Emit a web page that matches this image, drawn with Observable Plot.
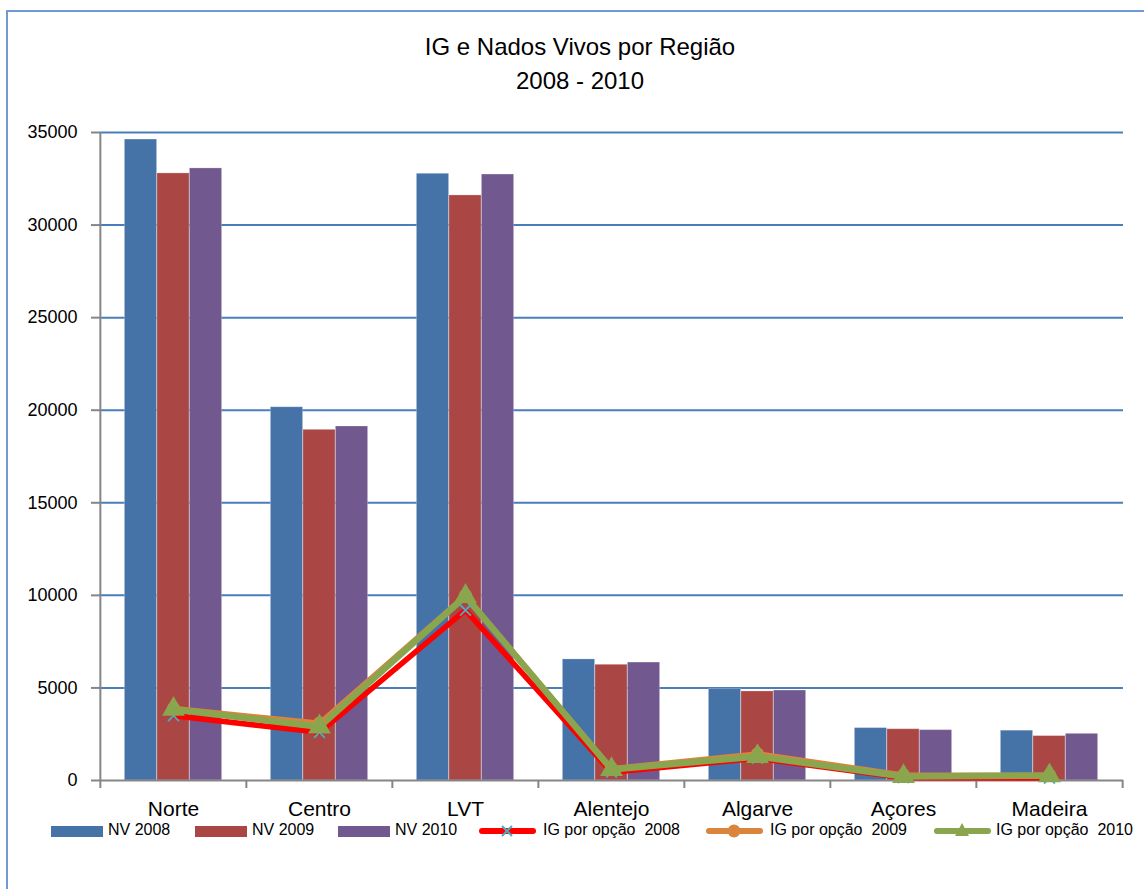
<!DOCTYPE html>
<html>
<head>
<meta charset="utf-8">
<script src="https://cdn.jsdelivr.net/npm/d3@7"></script>
<script src="https://cdn.jsdelivr.net/npm/@observablehq/plot@0.6"></script>
<style>
  html, body { margin: 0; padding: 0; background: #fff; }
  body { width: 1144px; height: 889px; overflow: hidden; position: relative; font-family: "Liberation Sans", Arial, sans-serif; }
  #frame { position: absolute; left: 6px; top: 10px; width: 1300px; height: 1000px; border-left: 2px solid #6f9ad2; border-top: 2px solid #6f9ad2; }
  #chart { position: absolute; left: 0; top: 0; }
  .title { position: absolute; left: 380px; width: 400px; text-align: center; font-size: 24px; color: #000; white-space: nowrap; }
  .leg { position: absolute; top: 818px; height: 24px; font-size: 16px; color: #000; white-space: nowrap; }
  .leg .sw { position: absolute; top: 8px; height: 11px; }
  .leg .tx { position: absolute; top: 3px; }
  .leg svg { position: absolute; top: 0; }
</style>
</head>
<body>
<div id="frame"></div>
<div id="chart"></div>
<div class="title" style="top:33px">IG e Nados Vivos por Região</div>
<div class="title" style="top:67px">2008 - 2010</div>
<div id="legend"></div>
<script>
const regions = ["Norte", "Centro", "LVT", "Alentejo", "Algarve", "Açores", "Madeira"];
const nv2008 = [34620, 20160, 32770, 6540, 4940, 2830, 2690];
const nv2009 = [32790, 18940, 31600, 6250, 4810, 2770, 2400];
const nv2010 = [33060, 19120, 32730, 6370, 4860, 2720, 2520];
const ig2008 = [3500, 2600, 9200, 450, 1200, 150, 130];
const ig2009 = [3900, 3100, 10000, 650, 1450, 300, 300];
const ig2010 = [3850, 2900, 9950, 600, 1300, 220, 260];
const yTicks = [0, 5000, 10000, 15000, 20000, 25000, 30000, 35000];
const barNames = ["NV 2008", "NV 2009", "NV 2010"];
const lineNames = ["IG por opção  2008", "IG por opção  2009", "IG por opção  2010"];

const barColors = ["#4572a7", "#aa4643", "#71588f"];
const lineColors = ["#ff0000", "#db843d", "#89a54e"];
const gridColor = "#4a7ebb";
const axisColor = "#868686";

const data = regions.map((r, i) => ({
  region: r, nv2008: nv2008[i], nv2009: nv2009[i], nv2010: nv2010[i],
  ig2008: ig2008[i], ig2009: ig2009[i], ig2010: ig2010[i]
}));

const W = 1144, H = 889, mL = 99, mR = 21, mT = 132, mB = 109;
const bw = (W - mL - mR) / regions.length;
const barW = bw / 4.5;
const gap = (bw - 3 * barW) / 2;
const nvKeys = ["nv2008", "nv2009", "nv2010"];
const igKeys = ["ig2008", "ig2009", "ig2010"];

const barMarks = nvKeys.map((k, j) => Plot.barY(data, {
  x: "region", y: k, fill: barColors[j], stroke: "#ffffff", strokeOpacity: 0.25, strokeWidth: 1,
  insetLeft: gap + j * barW, insetRight: gap + (2 - j) * barW
}));

const lineWidths = [5.5, 5, 6.5];
const lineMarks = igKeys.map((k, j) => Plot.line(data, {
  x: "region", y: k, stroke: lineColors[j], strokeWidth: lineWidths[j], strokeLinejoin: "miter", curve: "linear"
}));
const dotMarks = [
  Plot.dot(data, {x: "region", y: "ig2008", symbol: "times", r: 5, stroke: "#4bacc6", strokeWidth: 1.8}),
  Plot.dot(data, {x: "region", y: "ig2009", symbol: "circle", r: 6.5, fill: lineColors[1]}),
  Plot.dot(data, {x: "region", y: "ig2010", symbol: "triangle", r: 8.5, fill: lineColors[2]})
];

const chart = Plot.plot({
  width: W, height: H,
  marginLeft: mL, marginRight: mR, marginTop: mT, marginBottom: mB,
  style: {fontFamily: "Liberation Sans, Arial, sans-serif", color: "#000", background: "transparent", overflow: "visible"},
  x: {domain: regions, padding: 0, label: null},
  y: {domain: [0, 35000], label: null},
  marks: [
    Plot.ruleY(yTicks.filter(d => d > 0), {stroke: gridColor, strokeWidth: 2}),
    ...barMarks,
    Plot.ruleY([0], {stroke: axisColor, strokeWidth: 2}),
    Plot.ruleX([regions[0]], {x: d => d, dx: -bw / 2, y1: 0, y2: 35000, stroke: axisColor, strokeWidth: 2}),
    Plot.axisY({ticks: yTicks, tickSize: 8, tickPadding: 14, stroke: axisColor, strokeWidth: 2, fill: "#000", fontSize: 18, label: null, tickFormat: d => String(d)}),
    Plot.axisX({tickSize: 8, dx: -bw / 2, stroke: axisColor, strokeWidth: 2, tickFormat: () => "", label: null}),
    Plot.axisX({ticks: [regions[regions.length - 1]], tickSize: 8, dx: bw / 2, stroke: axisColor, strokeWidth: 2, tickFormat: () => "", label: null}),
    Plot.axisX({tickSize: 0, tickPadding: 21, fill: "#000", fontSize: 21, label: null}),
    ...lineMarks,
    ...dotMarks
  ]
});
document.getElementById("chart").appendChild(chart);

// Legend
const legend = document.getElementById("legend");
const barLeg = [{x: 51, t: 108}, {x: 195, t: 252}, {x: 338, t: 395}];
barNames.forEach((n, j) => {
  const d = document.createElement("div");
  d.className = "leg";
  d.style.left = barLeg[j].x + "px";
  d.innerHTML = `<div class="sw" style="left:0;width:52px;background:${barColors[j]}"></div>` +
    `<div class="tx" style="left:${barLeg[j].t - barLeg[j].x}px">${n}</div>`;
  legend.appendChild(d);
});
const lineLeg = [{x: 479, t: 543}, {x: 706, t: 770}, {x: 934, t: 996}];
lineNames.forEach((n, j) => {
  const d = document.createElement("div");
  d.className = "leg";
  d.style.left = lineLeg[j].x + "px";
  let marker = "";
  if (j === 0) marker = `<path d="M23,8 L33,18 M33,8 L23,18" stroke="#4bacc6" stroke-width="2"/>`;
  if (j === 1) marker = `<circle cx="28" cy="13" r="6.5" fill="${lineColors[1]}"/>`;
  if (j === 2) marker = `<path d="M28,5 L35,18 L21,18 Z" fill="${lineColors[2]}"/>`;
  d.innerHTML = `<svg width="58" height="26"><line x1="3" y1="13" x2="54" y2="13" stroke="${lineColors[j]}" stroke-width="6" stroke-linecap="round"/>${marker}</svg>` +
    `<div class="tx" style="left:${lineLeg[j].t - lineLeg[j].x}px">${n.replace(/  /g, " &nbsp;")}</div>`;
  legend.appendChild(d);
});
</script>
</body>
</html>
